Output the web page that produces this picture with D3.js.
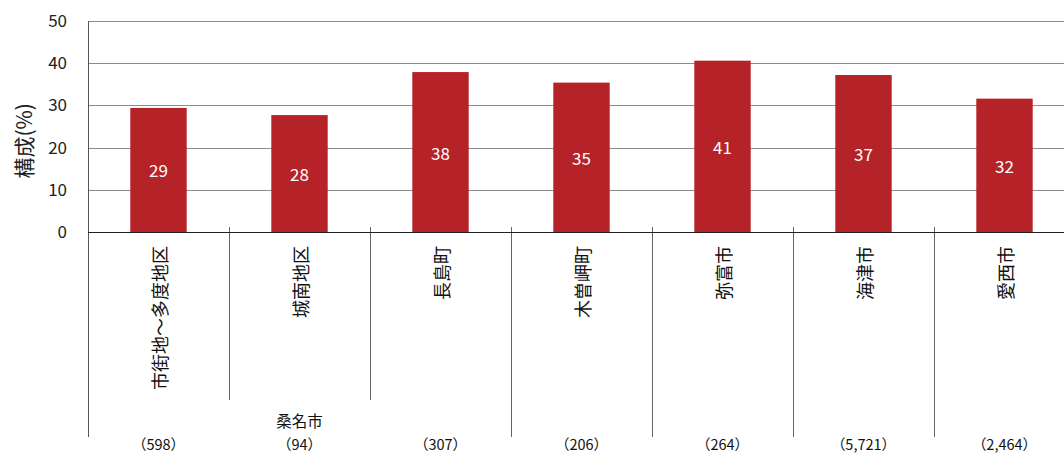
<!DOCTYPE html>
<html>
<head>
<meta charset="utf-8">
<script src="https://cdn.jsdelivr.net/npm/d3@7"></script>
<style>
  html, body { margin: 0; padding: 0; background: #fff; }
  svg { display: block; font-family: "Noto Sans CJK JP", "Noto Sans", sans-serif; }
</style>
</head>
<body>
<svg id="chart" width="1064" height="454"></svg>
<script>
// 地域ごとの構成比(%)
const categories = ["市街地～多度地区", "城南地区", "長島町", "木曽岬町", "弥富市", "海津市", "愛西市"];
const values = [29.4, 27.7, 37.9, 35.4, 40.6, 37.2, 31.6];
// 回答数(括弧書き)
const counts = ["（598）", "（94）", "（307）", "（206）", "（264）", "（5,721）", "（2,464）"];
// 桑名市としてまとめる区分
const groupLabel = "桑名市";
const groupMembers = ["市街地～多度地区", "城南地区", "長島町"];
const yTicks = [0, 10, 20, 30, 40, 50];
const yTitle = "構成(%)";

const svg = d3.select("#chart");
const mLeft = 88, mTop = 21, mBottom = 232, band = 141, svgW = 1064;
const mRight = mLeft + band * categories.length;

const x = d3.scaleBand().domain(categories).range([mLeft, mRight]).padding(0);
const y = d3.scaleLinear().domain([0, 50]).range([mBottom, mTop]);
const bw = x.bandwidth();

// 目盛線
svg.append("g")
  .selectAll("line")
  .data(yTicks.filter(d => d > 0))
  .join("line")
  .attr("x1", mLeft).attr("x2", svgW)
  .attr("y1", d => Math.round(y(d)) + 0.5).attr("y2", d => Math.round(y(d)) + 0.5)
  .attr("stroke", "#8c8c8c").attr("stroke-width", 1);

// Y軸目盛ラベル
const yAxis = d3.axisLeft(y).tickValues(yTicks).tickSize(0).tickPadding(21);
const gy = svg.append("g").attr("transform", `translate(${mLeft},0)`).call(yAxis);
gy.select(".domain").remove();
gy.selectAll("text")
  .attr("font-size", 17).attr("fill", "#222")
  .attr("font-family", "'Noto Sans CJK JP', sans-serif");

// Y軸タイトル
svg.append("text")
  .attr("transform", `translate(23,${y(21.6)}) rotate(-90)`)
  .attr("text-anchor", "middle").attr("dominant-baseline", "central")
  .attr("font-size", 21).attr("fill", "#222")
  .text(yTitle);

// 棒
svg.append("g")
  .selectAll("rect")
  .data(values)
  .join("rect")
  .attr("x", (d, i) => x(categories[i]) + bw * 0.3)
  .attr("width", bw * 0.4)
  .attr("y", d => y(d))
  .attr("height", d => y(0) - y(d))
  .attr("fill", "#b52227");

// 棒の値ラベル
svg.append("g")
  .selectAll("text")
  .data(values)
  .join("text")
  .attr("x", (d, i) => x(categories[i]) + bw / 2)
  .attr("y", d => y(d / 2))
  .attr("text-anchor", "middle").attr("dominant-baseline", "central")
  .attr("font-size", 17).attr("fill", "#fff")
  .text(d => d3.format(".0f")(d));

// 左軸線(下の表部分まで延長)
svg.append("line")
  .attr("x1", mLeft + 0.5).attr("x2", mLeft + 0.5)
  .attr("y1", mTop).attr("y2", 437)
  .attr("stroke", "#555").attr("stroke-width", 1);

// 区切り線(グループ内は短く)
svg.append("g")
  .selectAll("line")
  .data(categories.slice(1))
  .join("line")
  .attr("x1", d => Math.round(x(d)) + 0.5).attr("x2", d => Math.round(x(d)) + 0.5)
  .attr("y1", mBottom - 5)
  .attr("y2", (d, i) => groupMembers.includes(d) && groupMembers.includes(categories[i]) ? 400 : 437)
  .attr("stroke", "#666").attr("stroke-width", 1);

// 0の軸線
svg.append("line")
  .attr("x1", mLeft).attr("x2", svgW)
  .attr("y1", mBottom + 0.5).attr("y2", mBottom + 0.5)
  .attr("stroke", "#222").attr("stroke-width", 1.2);

// 区分ラベル(90度回転、上端揃え)
svg.append("g")
  .selectAll("text")
  .data(categories)
  .join("text")
  .attr("transform", d => `translate(${x(d) + bw / 2},246) rotate(-90)`)
  .attr("text-anchor", "end").attr("dominant-baseline", "central")
  .attr("font-size", 18).attr("fill", "#111")
  .text(d => d);

// グループ名
const gStart = x(groupMembers[0]);
const gEnd = x(groupMembers[groupMembers.length - 1]) + bw;
svg.append("text")
  .attr("x", (gStart + gEnd) / 2)
  .attr("y", 420)
  .attr("text-anchor", "middle").attr("dominant-baseline", "central")
  .attr("font-size", 15.5).attr("fill", "#111")
  .text(groupLabel);

// 回答数
svg.append("g")
  .selectAll("text")
  .data(counts)
  .join("text")
  .attr("x", (d, i) => x(categories[i]) + bw / 2)
  .attr("y", 443)
  .attr("text-anchor", "middle").attr("dominant-baseline", "central")
  .attr("font-size", 14.5).attr("fill", "#111")
  .text(d => d);
</script>
</body>
</html>
